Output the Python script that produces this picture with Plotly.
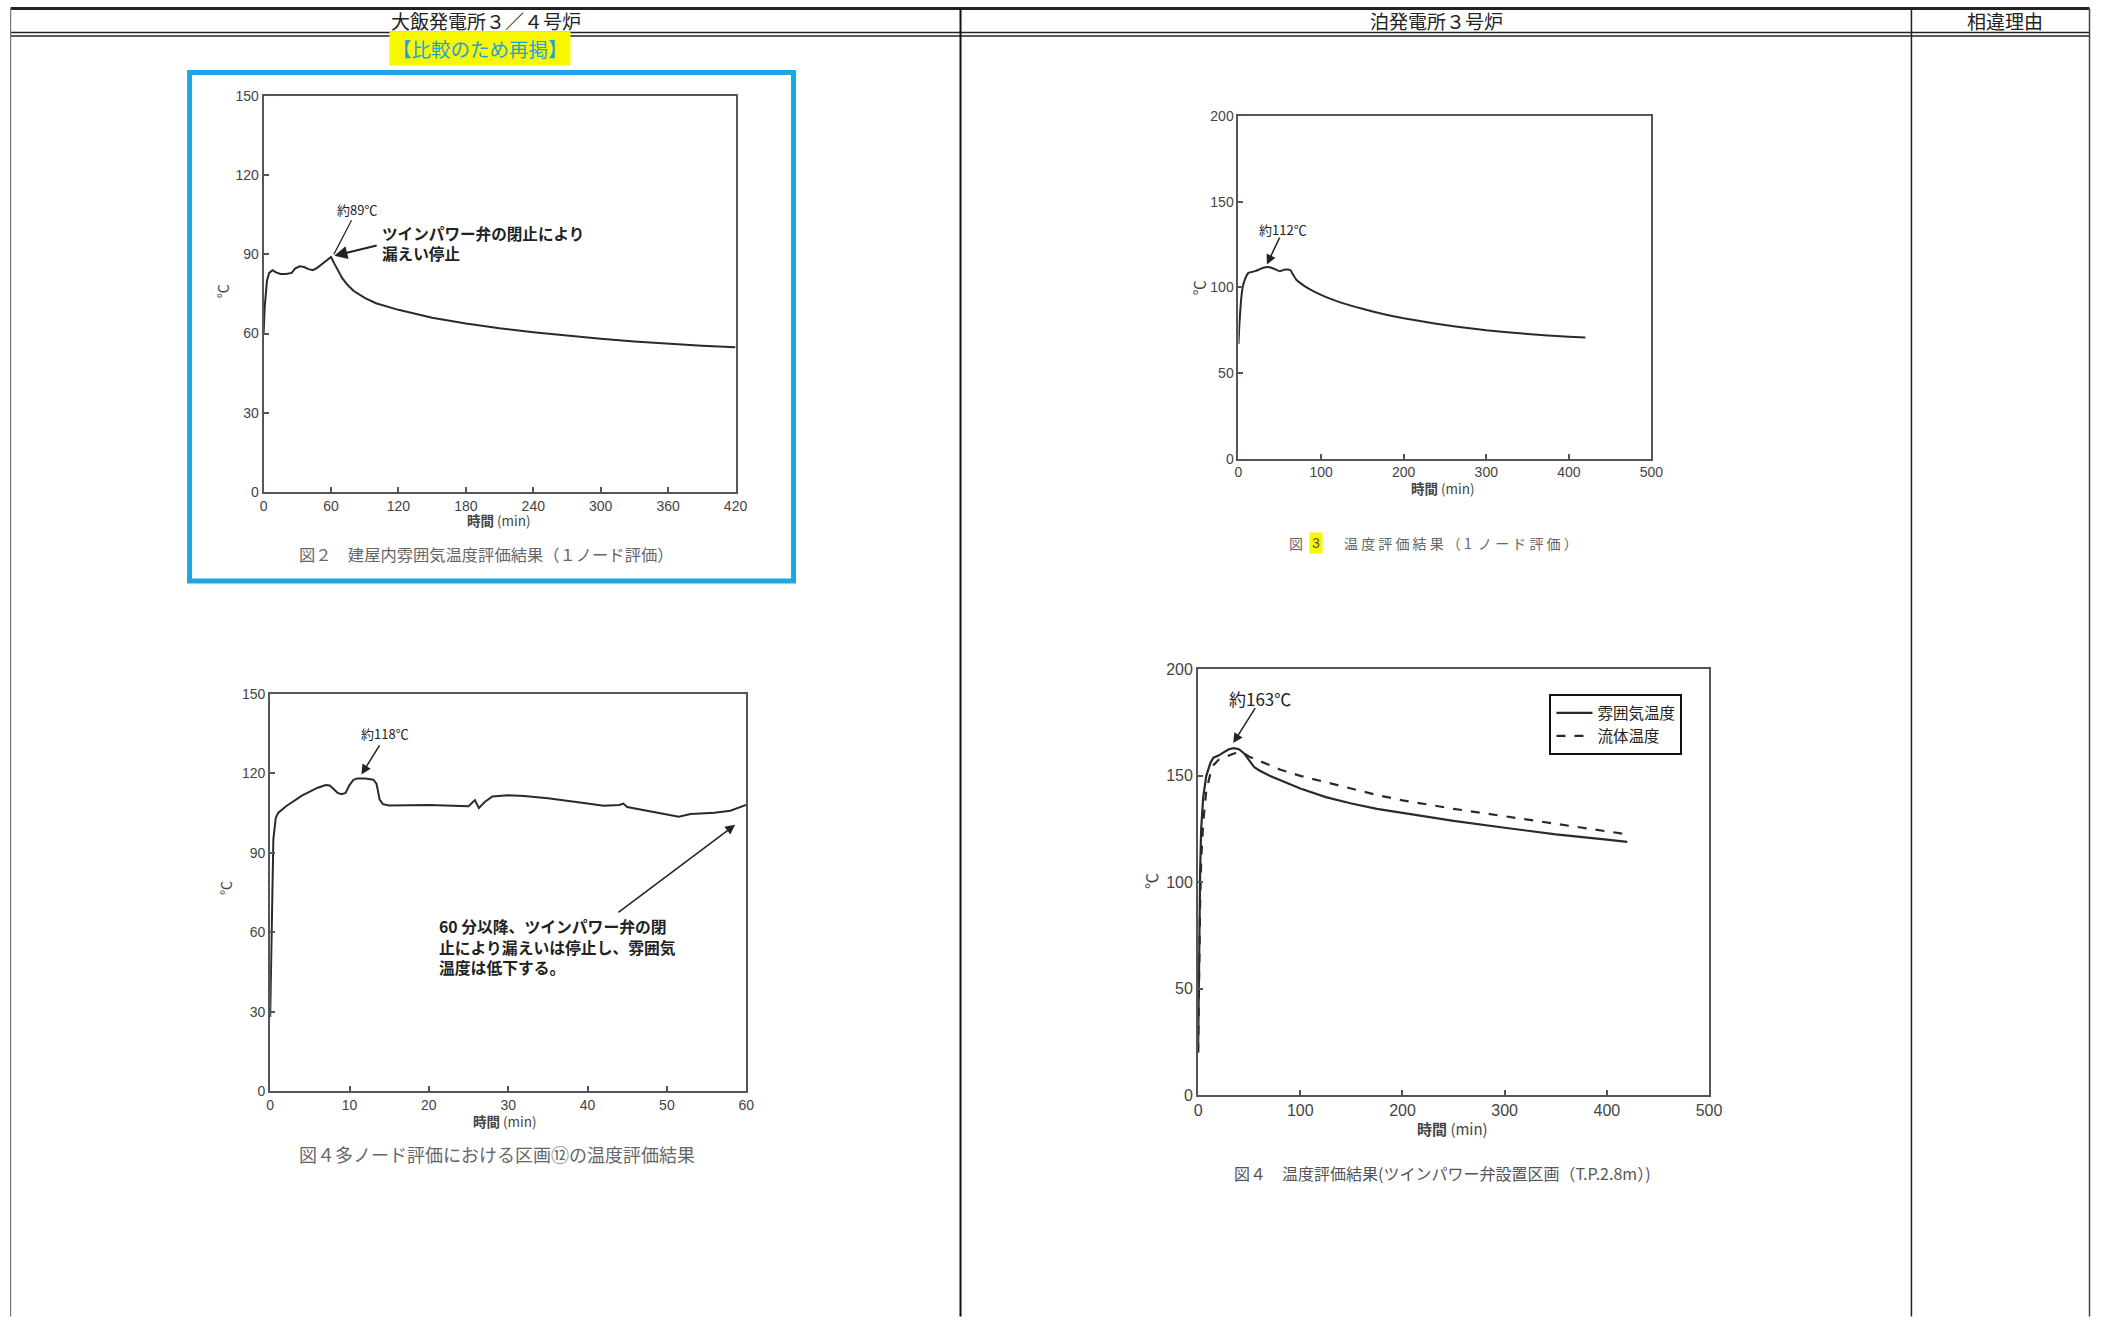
import plotly.graph_objects as go

# ---------------- data ----------------
# Fig.2 Ohi (1 node)
ohi1_t = [0, 1, 3, 5, 8, 11, 15, 20, 25, 28, 32, 36, 40, 44, 48, 52, 56, 60, 63, 66, 70, 75, 80, 90, 100, 120, 150, 180, 210, 240, 270, 300, 330, 360, 390, 420]
ohi1_v = [60, 70, 80, 83, 84, 83.2, 82.6, 82.6, 83, 84.6, 85.5, 85.2, 84.4, 84, 85, 86.4, 87.8, 89, 86.5, 84, 81, 78.3, 76.2, 73.5, 71.5, 69, 66, 63.8, 62, 60.5, 59.2, 58, 57, 56.1, 55.4, 54.8]

# Fig.4 Ohi (multi node, block 12)
ohi2_t = [0, 0.2, 0.4, 0.7, 1, 2, 3, 4, 5, 6, 7, 7.5, 8, 8.5, 9, 9.5, 10, 10.5, 11, 12, 13, 13.4, 13.8, 14.2, 15, 20, 25, 25.8, 26.3, 27, 28, 30, 32, 35, 40, 42, 44, 44.5, 45, 48, 50, 51.5, 53, 56, 58, 60]
ohi2_v = [28, 70, 95, 103, 105, 107.5, 109.5, 111.5, 113, 114.5, 115.5, 115.3, 114, 112.5, 112, 112.5, 115.5, 117.5, 118, 118, 117.5, 116, 110, 108.3, 107.8, 108, 107.5, 109.8, 106.8, 109, 111.2, 111.6, 111.4, 110.5, 108.5, 107.7, 108, 108.5, 107.2, 105.5, 104.2, 103.5, 104.6, 105, 105.8, 108]

# Fig.3 Tomari (1 node)
tom1_t = [0, 1, 3, 5, 8, 12, 20, 25, 30, 35, 40, 45, 50, 55, 60, 63, 66, 70, 75, 80, 90, 100, 110, 125, 150, 175, 200, 225, 250, 275, 300, 350, 400, 420]
tom1_v = [67, 78, 92, 100, 105, 108.5, 109.5, 110.5, 111.5, 112, 111.5, 110.5, 109.5, 110.3, 110.5, 110, 107.5, 104.5, 102.5, 100.8, 98, 95.7, 93.6, 91, 87.5, 84.5, 82, 80, 78, 76.5, 75, 72.8, 71.2, 70.7]

# Fig.4 Tomari (twin power valve block)
tom2_t = [0, 1, 2, 3, 5, 8, 12, 15, 20, 25, 30, 35, 40, 45, 50, 55, 60, 70, 80, 100, 125, 150, 175, 200, 250, 300, 350, 400, 420]
tom2_atm = [20, 75, 105, 125, 140, 150, 156, 158.5, 159.5, 161, 162.5, 163, 162.5, 160.5, 157, 154, 152.5, 150, 148, 144, 140, 137, 134.5, 132.5, 128.8, 125.6, 122.5, 120, 119]
tom2_fluid = [20, 60, 90, 110, 128, 143, 151, 155, 157.5, 158.5, 159.5, 160.5, 161, 160.5, 159, 158, 157, 155, 153, 150, 147, 144, 141, 138.5, 134.5, 131, 127.5, 124.2, 122.5]

series_names = ["雰囲気温度", "流体温度"]

ohi1_xticks = [0, 60, 120, 180, 240, 300, 360, 420]
ohi1_yticks = [0, 30, 60, 90, 120, 150]
ohi2_xticks = [0, 10, 20, 30, 40, 50, 60]
ohi2_yticks = [0, 30, 60, 90, 120, 150]
tom_xticks = [0, 100, 200, 300, 400, 500]
tom_yticks = [0, 50, 100, 150, 200]

# ---------------- helpers ----------------
W, H = 2103, 1326
CJK = "Noto Sans CJK JP"
NUM = "Liberation Sans Narrow, Liberation Sans, sans-serif"
LINE = "#2a2a2a"
AX = "#555555"
# calibration of the capture (page -> picture)
SX, CX = 0.992, 3.4
SY, CY = 0.986, 8.6


def px(x):
    v = (x - CX) / SX
    return min(max(v, 0.5), W - 0.5) / W


def py(y):
    v = (y - CY) / SY
    return 1 - min(max(v, 0.5), H - 0.5) / H


fig = go.Figure()

fig.add_trace(go.Scatter(x=ohi1_t, y=ohi1_v, mode="lines", line=dict(color=LINE, width=2),
                         xaxis="x", yaxis="y", showlegend=False))
fig.add_trace(go.Scatter(x=ohi2_t, y=ohi2_v, mode="lines", line=dict(color=LINE, width=2),
                         xaxis="x2", yaxis="y2", showlegend=False))
fig.add_trace(go.Scatter(x=tom1_t, y=tom1_v, mode="lines", line=dict(color=LINE, width=2, shape="spline", smoothing=0.4),
                         xaxis="x3", yaxis="y3", showlegend=False))
fig.add_trace(go.Scatter(x=tom2_t, y=tom2_atm, mode="lines", name=series_names[0],
                         line=dict(color=LINE, width=2.2), xaxis="x4", yaxis="y4"))
fig.add_trace(go.Scatter(x=tom2_t, y=tom2_fluid, mode="lines", name=series_names[1],
                         line=dict(color=LINE, width=2.2, dash="dash"), xaxis="x4", yaxis="y4"))


def axis(domain, rng, ticks, anchor, size):
    return dict(domain=domain, range=rng, tickvals=ticks, anchor=anchor,
                showline=True, mirror=True, linecolor=AX, linewidth=2,
                ticks="inside", ticklen=5, tickcolor=AX, tickwidth=1.5,
                showgrid=False, zeroline=False, fixedrange=True,
                tickfont=dict(family=NUM, size=size, color="#444"))


boxes = {
    1: (263, 735, 96.5, 492),
    2: (269.6, 745.7, 693.4, 1090.4),
    3: (1238, 1651, 116.7, 458.7),
    4: (1197.6, 1708.6, 669.2, 1094.4),
}


def dom(k):
    l, r, t, b = boxes[k]
    return [px(l), px(r)], [py(b), py(t)]


xd, yd = dom(1)
fig.update_layout(xaxis=axis(xd, [0, 420], ohi1_xticks, "y", 14),
                  yaxis=axis(yd, [0, 150], ohi1_yticks, "x", 14))
xd, yd = dom(2)
fig.update_layout(xaxis2=axis(xd, [0, 60], ohi2_xticks, "y2", 14),
                  yaxis2=axis(yd, [0, 150], ohi2_yticks, "x2", 14))
xd, yd = dom(3)
fig.update_layout(xaxis3=axis(xd, [0, 500], tom_xticks, "y3", 14),
                  yaxis3=axis(yd, [0, 200], tom_yticks, "x3", 14))
xd, yd = dom(4)
fig.update_layout(xaxis4=axis(xd, [0, 500], tom_xticks, "y4", 16),
                  yaxis4=axis(yd, [0, 200], tom_yticks, "x4", 16))

shapes = []
# table borders
shapes.append(dict(type="line", xref="paper", yref="paper", x0=px(10), x1=px(2103), y0=py(3), y1=py(3),
                   line=dict(color="#222", width=3)))
shapes.append(dict(type="line", xref="paper", yref="paper", x0=px(10), x1=px(2103), y0=py(33), y1=py(33),
                   line=dict(color="#222", width=1.5)))
shapes.append(dict(type="line", xref="paper", yref="paper", x0=px(10), x1=px(2103), y0=py(36.5), y1=py(36.5),
                   line=dict(color="#222", width=1.5)))
for xv, wv, col in [(10, 1.2, "#777"), (960, 2, "#111"), (1911, 1.5, "#222"), (2100, 1.5, "#444")]:
    shapes.append(dict(type="line", xref="paper", yref="paper", x0=px(xv), x1=px(xv), y0=py(1330), y1=py(3),
                       line=dict(color=col, width=wv)))
# cyan frame
shapes.append(dict(type="rect", xref="paper", yref="paper", x0=px(189), x1=px(793), y0=py(581), y1=py(73),
                   line=dict(color="#1BA7E4", width=5)))
fig.update_layout(shapes=shapes)

ann = []


def ptext(x, y, text, size, color="#333", angle=0, family=CJK, bg=None, xanchor="center"):
    d = dict(x=px(x), y=py(y), xref="paper", yref="paper", text=text, showarrow=False,
             font=dict(family=family, size=size, color=color), textangle=angle,
             xanchor=xanchor, yanchor="middle")
    if bg:
        d["bgcolor"] = bg
        d["borderpad"] = 2
    ann.append(d)


def dtext(ax_, x, y, text, size, xanchor="center", align="center", bold=False):
    t = f"<b>{text}</b>" if bold else text
    ann.append(dict(x=x, y=y, xref=f"x{ax_}" if ax_ > 1 else "x", yref=f"y{ax_}" if ax_ > 1 else "y",
                    text=t, showarrow=False, xanchor=xanchor, yanchor="middle", align=align,
                    font=dict(family=CJK, size=size, color="#222")))


def arrow(ax_, x0, y0, x1, y1, head=2, width=1.5):
    xr = f"x{ax_}" if ax_ > 1 else "x"
    yr = f"y{ax_}" if ax_ > 1 else "y"
    ann.append(dict(x=x1, y=y1, ax=x0, ay=y0, xref=xr, yref=yr, axref=xr, ayref=yr,
                    text="", showarrow=True, arrowhead=head, arrowsize=1.3, arrowwidth=width,
                    arrowcolor="#222", standoff=0, startstandoff=0))


# header
ptext(485, 21, "大飯発電所３／４号炉", 19, "#222")
ptext(1436, 21, "泊発電所３号炉", 19, "#222")
ptext(2005, 21, "相違理由", 19, "#222")
ptext(479, 49.5, "【比較のため再掲】", 19.5, "#1FA3DC", bg="#F7F700")

# chart 1
ptext(221, 292, "℃", 14, "#444", angle=-90)
ptext(498, 520, "<b>時間</b> (min)", 13.5, "#444")
ptext(485, 554, "図２　建屋内雰囲気温度評価結果（１ノード評価）", 16.3, "#666")
dtext(1, 83, 107, "約89℃", 13)
dtext(1, 103.5, 94.5, "ツインパワー弁の閉止により<br>漏えい停止", 15.6, xanchor="left", align="left", bold=True)
arrow(1, 79, 103.5, 62.5, 90, head=0, width=1.2)
arrow(1, 102, 93.5, 63, 89.5, head=2, width=2)

# chart 2
ptext(225, 888, "℃", 14, "#444", angle=-90)
ptext(504, 1120, "<b>時間</b> (min)", 13.5, "#444")
ptext(496, 1153, "図４多ノード評価における区画⑫の温度評価結果", 18, "#666")
dtext(2, 14.5, 135, "約118℃", 13)
arrow(2, 13.9, 131, 11.5, 119.5)
dtext(2, 21.0, 54.5, "60 分以降、ツインパワー弁の閉<br>止により漏えいは停止し、雰囲気<br>温度は低下する。", 15.8,
      xanchor="left", align="left", bold=True)
arrow(2, 43.7, 67, 58.6, 100.5)

# chart 3
ptext(1198, 288, "℃", 15, "#444", angle=-90)
ptext(1443, 488, "<b>時間</b> (min)", 13.5, "#444")
ptext(1296, 543, "図", 14, "#666")
ptext(1316, 543, "3", 14, "#555", family=NUM, bg="#F7F700")
ptext(1342, 543, "温 度 評 価 結 果 （ 1  ノ ー ド 評 価 ）", 14, "#666", xanchor="left")
dtext(3, 53.8, 134, "約112℃", 13)
arrow(3, 50.6, 130, 34.4, 113.4)

# chart 4
ptext(1151, 881, "℃", 16, "#444", angle=-90)
ptext(1452, 1128, "<b>時間</b> (min)", 15, "#444")
ptext(1442, 1172, "図４　温度評価結果(ツインパワー弁設置区画（T.P.2.8m）)", 16, "#555")
dtext(4, 60.6, 186.5, "約163℃", 17)
arrow(4, 56.8, 182.5, 34.4, 165.4)

fig.update_layout(annotations=ann)

fig.update_layout(
    width=W, height=H, autosize=False,
    margin=dict(l=0, r=0, t=0, b=0),
    paper_bgcolor="white", plot_bgcolor="white",
    font=dict(family=CJK, color="#333"),
    legend=dict(x=px(1549), y=py(694), xanchor="left", yanchor="top",
                bgcolor="white", bordercolor="#111", borderwidth=2,
                font=dict(family=CJK, size=15.5, color="#222"),
                tracegroupgap=0, itemwidth=36),
)

fig.write_html("out.html", config={"displayModeBar": False},
               post_script="document.body.style.margin='0';document.body.style.overflow='hidden';")
